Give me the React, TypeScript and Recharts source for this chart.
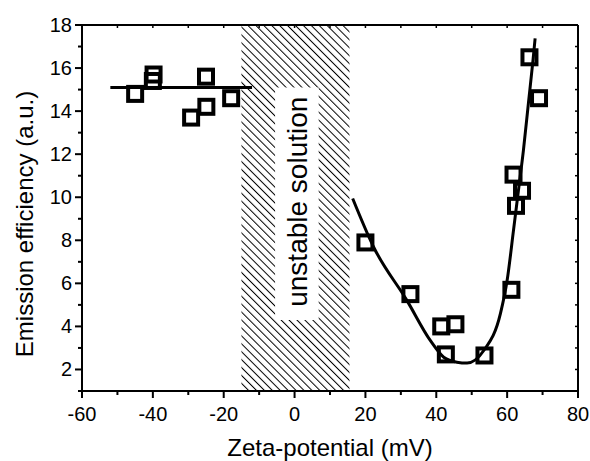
import React from "react"
import {
  ComposedChart,
  Scatter,
  Line,
  XAxis,
  YAxis,
  ReferenceArea,
} from "recharts"

// measured points, left branch (stable, negative zeta)
const leftX = [-45, -40, -39.8, -29.2, -25, -24.9, -17.9]
const leftY = [14.8, 15.4, 15.7, 13.7, 15.6, 14.2, 14.6]

// measured points, right branch
const rightX = [20, 32.7, 41.4, 45.4, 42.7, 53.6, 61.2, 62.5, 64.2, 61.8, 66.3, 69]
const rightY = [7.9, 5.5, 4.0, 4.1, 2.7, 2.65, 5.7, 9.6, 10.3, 11.05, 16.5, 14.6]

// guide lines
const flatX = [-52, -12]
const flatY = [15.1, 15.1]
const curveX = [16.4, 22.3, 31.7, 38.3, 42.1, 45.8, 48.7, 53.4, 58.1, 60, 61.8, 63.2, 64.6, 66, 67.3, 67.9]
const curveY = [9.94, 7.69, 5.21, 3.35, 2.57, 2.34, 2.3, 2.88, 4.59, 6.14, 8.47, 10.33, 12.19, 14.36, 16.37, 17.38]

const xTicks = [-60, -50, -40, -30, -20, -10, 0, 10, 20, 30, 40, 50, 60, 70, 80]
const yTicks = [1, 2, 3, 4, 5, 6, 7, 8, 9, 10, 11, 12, 13, 14, 15, 16, 17, 18]

const toPoints = (xs: number[], ys: number[]) => xs.map((x, i) => ({ x, y: ys[i] }))

const FONT = "'Liberation Sans', Arial, Helvetica, sans-serif"

const SquareShape = (props: any) => {
  const { cx, cy } = props
  if (cx == null || cy == null) return null
  return <rect x={cx - 7} y={cy - 7} width={14} height={14} fill="none" stroke="#000" strokeWidth={4} />
}

const BottomTick = (props: any) => {
  const { x, y, payload } = props
  const major = payload.value % 20 === 0
  return (
    <g>
      <line x1={x} y1={y} x2={x} y2={y + (major ? 7 : 4)} stroke="#000" strokeWidth={2} />
      {major && (
        <text x={x} y={y + 30} textAnchor="middle" fontSize={20} fontFamily={FONT} fill="#000">
          {payload.value}
        </text>
      )}
    </g>
  )
}

const LeftTick = (props: any) => {
  const { x, y, payload } = props
  const major = payload.value % 2 === 0
  return (
    <g>
      <line x1={x} y1={y} x2={x - (major ? 7 : 4)} y2={y} stroke="#000" strokeWidth={2} />
      {major && (
        <text x={x - 10} y={y + 7} textAnchor="end" fontSize={20} fontFamily={FONT} fill="#000">
          {payload.value}
        </text>
      )}
    </g>
  )
}

const TopTick = (props: any) => {
  const { x, y } = props
  return <line x1={x} y1={y} x2={x} y2={y + 3} stroke="#000" strokeWidth={1.5} />
}

const RightTick = (props: any) => {
  const { x, y } = props
  return <line x1={x} y1={y} x2={x - 3} y2={y} stroke="#000" strokeWidth={1.5} />
}

export default function App() {
  return (
    <div>
      <style>{"html,body{margin:0;padding:0;overflow:hidden}"}</style>
      <ComposedChart width={590} height={461} margin={{ top: 0, right: 8, bottom: 0, left: 0 }} style={{ fontFamily: FONT }}>
        <defs>
          <pattern id="hatch" width="5.6" height="5.6" patternUnits="userSpaceOnUse" patternTransform="rotate(-45)">
            <line x1="0.5" y1="0" x2="0.5" y2="5.6" stroke="#000" strokeWidth="1" />
          </pattern>
        </defs>
        <XAxis
          xAxisId="b"
          type="number"
          dataKey="x"
          domain={[-60, 80]}
          ticks={xTicks}
          interval={0}
          allowDataOverflow
          height={70}
          tickSize={0}
          tickMargin={0}
          tickLine={false}
          axisLine={{ stroke: "#000", strokeWidth: 2 }}
          tick={(p: any) => <BottomTick {...p} />}
          label={{
            content: (lp: any) => {
              const vb = lp.viewBox
              return (
                <text x={vb.x + vb.width / 2} y={vb.y + 65} textAnchor="middle" fontSize={24} fontFamily={FONT} fill="#000">
                  Zeta-potential (mV)
                </text>
              )
            },
          }}
        />
        <XAxis
          xAxisId="t"
          orientation="top"
          type="number"
          dataKey="x"
          domain={[-60, 80]}
          ticks={xTicks}
          interval={0}
          allowDataOverflow
          height={25}
          tickSize={0}
          tickMargin={0}
          tickLine={false}
          axisLine={{ stroke: "#000", strokeWidth: 2 }}
          tick={(p: any) => <TopTick {...p} />}
        />
        <YAxis
          yAxisId="l"
          type="number"
          domain={[1, 18]}
          ticks={yTicks}
          interval={0}
          allowDataOverflow
          width={82}
          tickSize={0}
          tickMargin={0}
          tickLine={false}
          axisLine={{ stroke: "#000", strokeWidth: 2 }}
          tick={(p: any) => <LeftTick {...p} />}
          label={{
            content: (lp: any) => {
              const vb = lp.viewBox
              const cy = vb.y + vb.height / 2 + 16
              return (
                <text
                  x={33}
                  y={cy}
                  transform={`rotate(-90 33 ${cy})`}
                  textAnchor="middle"
                  fontSize={24}
                  fontFamily={FONT}
                  fill="#000"
                >
                  Emission efficiency (a.u.)
                </text>
              )
            },
          }}
        />
        <YAxis
          yAxisId="r"
          orientation="right"
          type="number"
          domain={[1, 18]}
          ticks={yTicks}
          interval={0}
          allowDataOverflow
          width={4}
          tickSize={0}
          tickMargin={0}
          tickLine={false}
          axisLine={{ stroke: "#000", strokeWidth: 2 }}
          tick={(p: any) => <RightTick {...p} />}
        />

        <ReferenceArea xAxisId="b" yAxisId="l" x1={-15} x2={15.5} y1={1} y2={18} fill="url(#hatch)" fillOpacity={1} stroke="none" />
        <ReferenceArea
          xAxisId="b"
          yAxisId="l"
          x1={-5.5}
          x2={6.8}
          y1={4.3}
          y2={15.1}
          fill="#fff"
          fillOpacity={1}
          stroke="none"
          label={{
            content: (lp: any) => {
              const vb = lp.viewBox
              const cx = vb.x + vb.width / 2 + 10
              const cy = vb.y + vb.height / 2 - 2
              return (
                <text x={cx} y={cy} transform={`rotate(-90 ${cx} ${cy})`} textAnchor="middle" fontSize={28} fontFamily={FONT} fill="#000">
                  unstable solution
                </text>
              )
            },
          }}
        />

        <Line
          xAxisId="b"
          yAxisId="l"
          data={toPoints(flatX, flatY)}
          dataKey="y"
          type="linear"
          stroke="#000"
          strokeWidth={3}
          dot={false}
          activeDot={false}
          isAnimationActive={false}
        />
        <Line
          xAxisId="b"
          yAxisId="l"
          data={toPoints(curveX, curveY)}
          dataKey="y"
          type="monotone"
          stroke="#000"
          strokeWidth={3}
          dot={false}
          activeDot={false}
          isAnimationActive={false}
        />
        <Scatter xAxisId="b" yAxisId="l" data={toPoints(leftX, leftY)} dataKey="y" shape={<SquareShape />} isAnimationActive={false} />
        <Scatter xAxisId="b" yAxisId="l" data={toPoints(rightX, rightY)} dataKey="y" shape={<SquareShape />} isAnimationActive={false} />
      </ComposedChart>
    </div>
  )
}
